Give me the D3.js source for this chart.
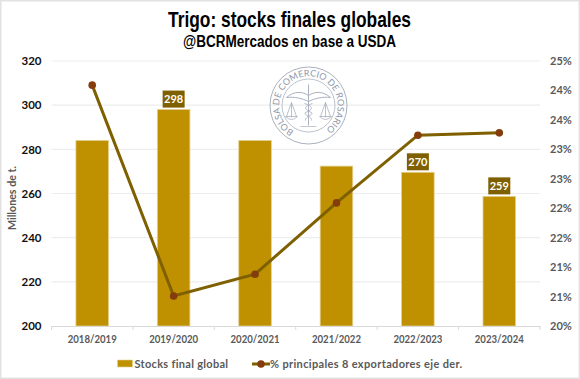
<!DOCTYPE html>
<html>
<head>
<meta charset="utf-8">
<script src="https://cdn.jsdelivr.net/npm/d3@7.9.0/dist/d3.min.js"></script>
<style>
  html, body { margin: 0; padding: 0; background: #fff; }
  svg { display: block; }
  text { font-family: Lato, "Open Sans", sans-serif; font-weight: 700; }
  .grid line { stroke: #ededed; stroke-width: 1.2; }
</style>
</head>
<body>
<div id="chart"></div>
<script>
const campaigns = ['2018/2019', '2019/2020', '2020/2021', '2021/2022', '2022/2023', '2023/2024'];
const stocks = [284, 298, 284, 272.4, 269.6, 258.7];
const exportShare = [24.09, 20.51, 20.88, 22.09, 23.24, 23.28];
const labelled = ['2019/2020', '2022/2023', '2023/2024'];
const leftTicks = [200, 220, 240, 260, 280, 300, 320];
const rightTicks = [20, 20.5, 21, 21.5, 22, 22.5, 23, 23.5, 24, 24.5];

const width = 580;
const height = 379;
const margin = { top: 61, right: 40, bottom: 53, left: 51.5 };

const svg = d3.select('#chart').append('svg')
  .attr('width', width)
  .attr('height', height);

// outer frame
svg.append('rect')
  .attr('x', 0.75).attr('y', 0.75)
  .attr('width', width - 1.5).attr('height', height - 1.5)
  .attr('fill', '#fff')
  .attr('stroke', '#e2e2e2')
  .attr('stroke-width', 1.5);

const x = d3.scaleBand()
  .domain(campaigns)
  .range([margin.left, width - margin.right])
  .paddingInner(0.6)
  .paddingOuter(0.3);

const y = d3.scaleLinear()
  .domain([200, 320])
  .range([height - margin.bottom, margin.top]);

const yRight = d3.scaleLinear()
  .domain([20, 24.5])
  .range([height - margin.bottom, margin.top]);

// Gridlines
svg.append('g')
  .attr('class', 'grid')
  .selectAll('line')
  .data(leftTicks.slice(1))
  .join('line')
  .attr('x1', margin.left)
  .attr('x2', width - margin.right)
  .attr('y1', d => y(d))
  .attr('y2', d => y(d));

// Watermark logo
const logo = svg.append('g')
  .attr('transform', 'translate(308.5,105.5)')
  .attr('fill', 'none')
  .attr('stroke', '#aab1bf');
logo.append('circle').attr('r', 38.5).attr('stroke-width', 1);
logo.append('circle').attr('r', 26.5).attr('stroke-width', 0.8);
logo.append('path').attr('id', 'logo-arc')
  .attr('d', 'M -14.5 25.5 A 29.3 29.3 0 1 1 14.5 25.5')
  .attr('stroke', 'none');
logo.append('text')
  .attr('fill', '#8f98aa').attr('stroke', 'none')
  .style('font-size', '9px')
  .style('font-weight', 400)
  .append('textPath')
  .attr('href', '#logo-arc')
  .attr('startOffset', '0')
  .attr('textLength', 150)
  .attr('lengthAdjust', 'spacing')
  .text('BOLSA DE COMERCIO DE ROSARIO');
// wings, staff and scales
logo.append('path').attr('stroke-width', 1)
  .attr('d', 'M0 -21V20 M-22 -8C-14 -15 -6 -14 0 -10C6 -14 14 -15 22 -8C14 -9 6 -7 0 -4C-6 -7 -14 -9 -22 -8Z');
logo.append('path').attr('stroke-width', 0.9)
  .attr('d', 'M-4 -2C5 1 5 4 -3 7C-6 9 4 11 3 15 M4 -2C-5 1 -5 4 3 7C6 9 -4 11 -3 15');
logo.append('path').attr('stroke-width', 0.8)
  .attr('d', 'M-17 -3V12 M-22 11L-17 -3L-12 11 M-23 11H-11Q-17 17 -23 11Z M17 -3V12 M12 11L17 -3L22 11 M11 11H23Q17 17 11 11Z');
logo.append('path').attr('stroke-width', 0.7)
  .attr('d', 'M-8 21H8');

// Bars
svg.append('g')
  .selectAll('rect')
  .data(campaigns)
  .join('rect')
  .attr('x', d => x(d))
  .attr('y', (d, i) => y(stocks[i]))
  .attr('width', x.bandwidth())
  .attr('height', (d, i) => y(200) - y(stocks[i]))
  .attr('fill', '#bf9000')
  .attr('stroke', '#e4cf8e')
  .attr('stroke-width', 0.8);

// Left axis
const yAxis = d3.axisLeft(y).tickValues(leftTicks).tickSize(0).tickPadding(10);
svg.append('g')
  .attr('transform', `translate(${margin.left},0)`)
  .call(yAxis)
  .call(g => g.select('.domain').remove())
  .selectAll('text')
  .style('font-size', '11.5px')
  .attr('fill', '#111');

// Right axis, labels rounded the way the source shows them
const yRightAxis = d3.axisRight(yRight)
  .tickValues(rightTicks)
  .tickSize(0)
  .tickPadding(10)
  .tickFormat(d => Math.round(d) + '%');
svg.append('g')
  .attr('transform', `translate(${width - margin.right},0)`)
  .call(yRightAxis)
  .call(g => g.select('.domain').remove())
  .selectAll('text')
  .style('font-size', '11px')
  .attr('fill', '#595959');

// Bottom axis
const xAxis = d3.axisBottom(x).tickSize(0).tickPadding(9);
svg.append('g')
  .attr('transform', `translate(0,${y(200)})`)
  .call(xAxis)
  .call(g => g.select('.domain').attr('stroke', '#d9d9d9'))
  .selectAll('text')
  .style('font-size', '11px')
  .attr('textLength', 49)
  .attr('lengthAdjust', 'spacingAndGlyphs')
  .attr('fill', '#595959');

// separators between categories on the baseline
const step = x.step();
svg.append('g')
  .selectAll('line')
  .data(d3.range(campaigns.length + 1))
  .join('line')
  .attr('x1', i => margin.left + i * step)
  .attr('x2', i => margin.left + i * step)
  .attr('y1', y(200))
  .attr('y2', y(200) + 4)
  .attr('stroke', '#d9d9d9');

// Line on the right axis
const line = d3.line()
  .x(d => x(d[0]) + x.bandwidth() / 2)
  .y(d => yRight(d[1]));
const linePoints = d3.zip(campaigns, exportShare);
svg.append('path')
  .datum(linePoints)
  .attr('d', line)
  .attr('fill', 'none')
  .attr('stroke', '#7f6000')
  .attr('stroke-width', 3);
svg.append('g')
  .selectAll('circle')
  .data(linePoints)
  .join('circle')
  .attr('cx', d => x(d[0]) + x.bandwidth() / 2)
  .attr('cy', d => yRight(d[1]))
  .attr('r', 3.8)
  .attr('fill', '#843c0c');

// Data labels
const tags = svg.append('g')
  .selectAll('g')
  .data(campaigns.filter(d => labelled.includes(d)))
  .join('g')
  .attr('transform', d => `translate(${x(d) + x.bandwidth() / 2},${y(stocks[campaigns.indexOf(d)]) - 10.5})`);
tags.append('rect')
  .attr('x', -11).attr('y', -8.5)
  .attr('width', 22).attr('height', 17)
  .attr('fill', '#7f6000');
tags.append('text')
  .attr('text-anchor', 'middle')
  .attr('y', 4)
  .attr('fill', '#fff')
  .style('font-size', '11px')
  .text(d => Math.round(stocks[campaigns.indexOf(d)]));

// Titles, condensed to the source's narrow face
svg.append('text')
  .attr('x', 168).attr('y', 26.5)
  .style('font-family', '"Liberation Sans", sans-serif')
  .style('font-size', '22.5px')
  .attr('textLength', 243)
  .attr('lengthAdjust', 'spacingAndGlyphs')
  .attr('fill', '#000')
  .text('Trigo: stocks finales globales');
svg.append('text')
  .attr('x', 183).attr('y', 47)
  .style('font-family', '"Liberation Sans", sans-serif')
  .style('font-size', '16px')
  .attr('textLength', 213)
  .attr('lengthAdjust', 'spacingAndGlyphs')
  .attr('fill', '#000')
  .text('@BCRMercados en base a USDA');

// Y axis title
svg.append('text')
  .attr('transform', 'translate(16,198) rotate(-90)')
  .attr('text-anchor', 'middle')
  .attr('fill', '#595959')
  .style('font-size', '11px')
  .attr('textLength', 64)
  .attr('lengthAdjust', 'spacingAndGlyphs')
  .text('Millones de t.');

// Legend
const legendY = 364;
svg.append('rect')
  .attr('x', 117.5).attr('y', legendY - 4)
  .attr('width', 15).attr('height', 7)
  .attr('fill', '#bf9000')
  .attr('stroke', '#e4cf8e')
  .attr('stroke-width', 0.6);
svg.append('text')
  .attr('x', 134.5).attr('y', legendY + 4)
  .attr('fill', '#595959')
  .style('font-size', '11px')
  .style('letter-spacing', '0.3px')
  .text('Stocks final global');
svg.append('line')
  .attr('x1', 252).attr('x2', 270)
  .attr('y1', legendY).attr('y2', legendY)
  .attr('stroke', '#7f6000')
  .attr('stroke-width', 3);
svg.append('circle')
  .attr('cx', 261).attr('cy', legendY).attr('r', 3.8)
  .attr('fill', '#843c0c');
svg.append('text')
  .attr('x', 270).attr('y', legendY + 4)
  .attr('fill', '#595959')
  .style('font-size', '11px')
  .style('letter-spacing', '0.35px')
  .text('% principales 8 exportadores eje der.');
</script>
</body>
</html>
